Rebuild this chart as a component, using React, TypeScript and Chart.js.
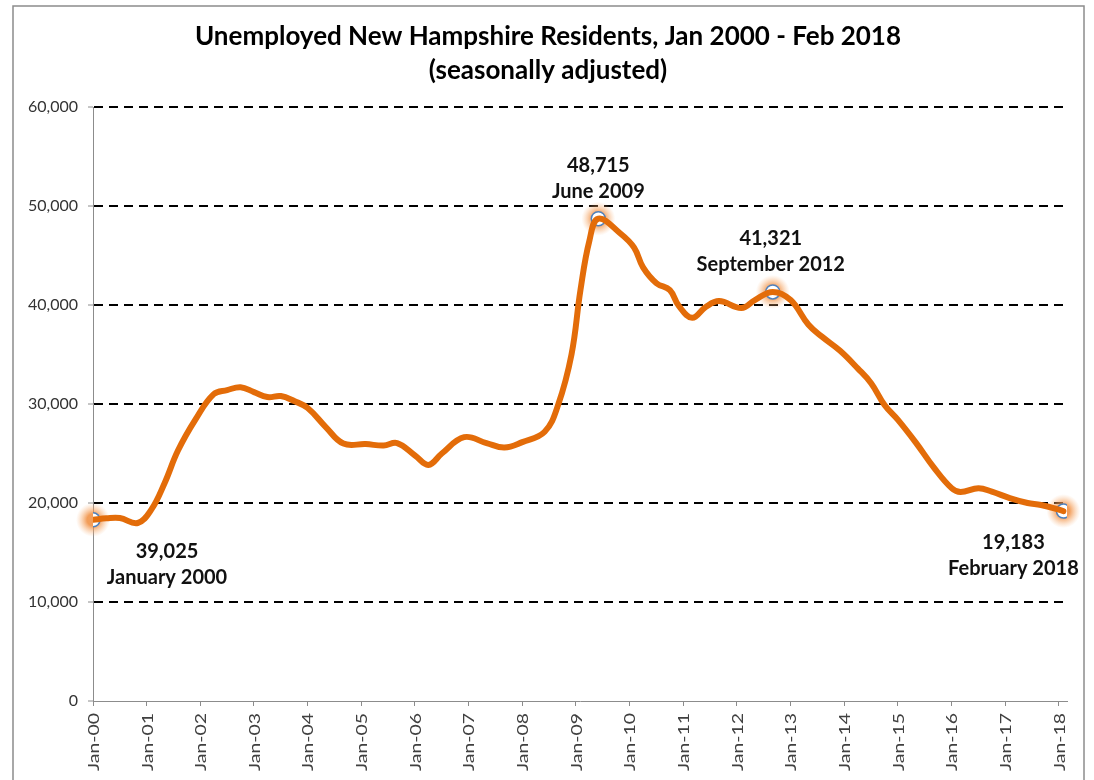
import React, { useEffect, useRef } from "react";
import { Chart, registerables } from "chart.js";

Chart.register(...registerables);

const TITLE_LINES = ["Unemployed New Hampshire Residents, Jan 2000 - Feb 2018", "(seasonally adjusted)"];

// months since Jan 2000
const MONTHS = [
  0, 3, 6, 10, 13, 16, 19, 23, 27, 30, 33, 36, 39, 42, 45, 48, 52, 56, 61, 65, 68, 72, 75, 78, 83, 88, 92, 96,
  101, 104, 107, 109, 111, 113, 118, 121, 123, 126, 129, 131, 134, 137, 140, 145, 148, 152, 156, 160, 163, 167,
  171, 174, 177, 180, 184, 188, 192, 194, 198, 201, 205, 209, 212, 217,
];
const UNEMPLOYED = [
  18300, 18450, 18480, 17980, 19300, 22000, 25300, 28500, 31000, 31400, 31700, 31200, 30700, 30800, 30300, 29600,
  27700, 26000, 25950, 25800, 26050, 24800, 23850, 25000, 26650, 26050, 25600, 26150, 27200, 29900, 35000, 41500,
  46500, 48715, 47200, 45800, 43800, 42200, 41500, 39900, 38700, 39800, 40400, 39700, 40500, 41321, 40500, 38000,
  36800, 35400, 33600, 32100, 29900, 28400, 26100, 23600, 21500, 21100, 21500, 21150, 20500, 20000, 19800, 19183,
];

const HIGHLIGHT_MONTHS = [0, 113, 152, 217];
const HIGHLIGHT_VALUES = [18300, 48715, 41321, 19183];
const HIGHLIGHT_NUMBERS = ["39,025", "48,715", "41,321", "19,183"];
const HIGHLIGHT_DATES = ["January 2000", "June 2009", "September 2012", "February 2018"];
const LABEL_OFFSETS = [
  [74, 32],
  [0, -53],
  [-2, -53],
  [-50, 31],
];

const X_TICK_MONTHS = [0, 12, 24, 36, 48, 60, 72, 84, 96, 108, 120, 132, 144, 156, 168, 180, 192, 204, 216];
const X_TICK_LABELS = [
  "Jan-00", "Jan-01", "Jan-02", "Jan-03", "Jan-04", "Jan-05", "Jan-06", "Jan-07", "Jan-08", "Jan-09",
  "Jan-10", "Jan-11", "Jan-12", "Jan-13", "Jan-14", "Jan-15", "Jan-16", "Jan-17", "Jan-18",
];

const FONT = "Lato, 'Open Sans', sans-serif";
const ORANGE = "#E36C09";

const decorPlugin = {
  id: "decor",
  beforeDraw(chart: any) {
    const ctx = chart.ctx;
    ctx.save();
    ctx.fillStyle = "#ffffff";
    ctx.fillRect(0, 0, chart.width, chart.height);
    ctx.strokeStyle = "#8c8c8c";
    ctx.lineWidth = 1.5;
    ctx.strokeRect(13, 6, 1071, 800);
    ctx.fillStyle = "#000";
    ctx.textAlign = "center";
    ctx.textBaseline = "middle";
    ctx.font = `bold 26px ${FONT}`;
    ctx.fillText(TITLE_LINES[0], 548, 37);
    ctx.fillText(TITLE_LINES[1], 548, 71);
    ctx.restore();
  },
  beforeDatasetDraw(chart: any, args: any) {
    if (args.index !== 1) return;
    const ctx = chart.ctx;
    const xs = chart.scales.x;
    const ys = chart.scales.y;
    ctx.save();
    HIGHLIGHT_MONTHS.forEach((m, i) => {
      const px = xs.getPixelForValue(m);
      const py = ys.getPixelForValue(HIGHLIGHT_VALUES[i]);
      const g = ctx.createRadialGradient(px, py, 6, px, py, 17);
      g.addColorStop(0, "rgba(240,140,60,0.85)");
      g.addColorStop(1, "rgba(250,190,140,0)");
      ctx.fillStyle = g;
      ctx.beginPath();
      ctx.arc(px, py, 17, 0, Math.PI * 2);
      ctx.fill();
    });
    ctx.restore();
  },
  afterDatasetsDraw(chart: any) {
    const ctx = chart.ctx;
    const xs = chart.scales.x;
    const ys = chart.scales.y;
    ctx.save();
    ctx.fillStyle = "#111";
    ctx.textAlign = "center";
    ctx.textBaseline = "middle";
    ctx.font = `bold 20px ${FONT}`;
    HIGHLIGHT_MONTHS.forEach((m, i) => {
      const px = xs.getPixelForValue(m) + LABEL_OFFSETS[i][0];
      const py = ys.getPixelForValue(HIGHLIGHT_VALUES[i]) + LABEL_OFFSETS[i][1];
      ctx.fillText(HIGHLIGHT_NUMBERS[i], px, py);
      ctx.fillText(HIGHLIGHT_DATES[i], px, py + 26);
    });
    // x tick labels (rotated, elongated along their length like the reference)
    ctx.fillStyle = "#404040";
    ctx.font = `15px ${FONT}`;
    ctx.textAlign = "right";
    ctx.textBaseline = "middle";
    const stretch = 58 / ctx.measureText("Jan-00").width;
    const top = xs.top + 12;
    X_TICK_MONTHS.forEach((m, i) => {
      const px = xs.getPixelForValue(m);
      ctx.save();
      ctx.translate(px + 1, top);
      ctx.rotate(-Math.PI / 2);
      ctx.scale(stretch, 1);
      ctx.fillText(X_TICK_LABELS[i], 0, 0);
      ctx.restore();
    });
    ctx.restore();
  },
};

export default function App() {
  const ref = useRef<HTMLCanvasElement | null>(null);
  useEffect(() => {
    if (!ref.current) return;
    const chart = new Chart(ref.current, {
      type: "line",
      data: {
        datasets: [
          {
            data: MONTHS.map((m, i) => ({ x: m, y: UNEMPLOYED[i] })),
            borderColor: ORANGE,
            borderWidth: 6,
            pointRadius: 0,
            tension: 0.4,
            fill: false,
            borderCapStyle: "round",
            borderJoinStyle: "round",
          },
          {
            data: HIGHLIGHT_MONTHS.map((m, i) => ({ x: m, y: HIGHLIGHT_VALUES[i] })),
            showLine: false,
            pointRadius: 7,
            pointBackgroundColor: "#ffffff",
            pointBorderColor: "#4F81BD",
            pointBorderWidth: 1.5,
          },
        ],
      },
      options: {
        animation: false,
        responsive: false,
        layout: { padding: { left: 0, top: 107, right: 27, bottom: 0 } },
        plugins: { legend: { display: false }, tooltip: { enabled: false }, title: { display: false } },
        scales: {
          x: {
            type: "linear",
            min: 0,
            max: 217.8,
            afterBuildTicks: (scale: any) => {
              scale.ticks = X_TICK_MONTHS.map((v) => ({ value: v }));
            },
            afterFit: (scale: any) => {
              scale.height = 79;
            },
            ticks: { display: false, autoSkip: false },
            grid: { drawOnChartArea: false, drawTicks: true, tickLength: 5, tickColor: "#8c8c8c" },
            border: { display: true, color: "#8c8c8c", width: 1 },
          },
          y: {
            min: 0,
            max: 60000,
            afterFit: (scale: any) => {
              scale.width = 93;
            },
            ticks: {
              stepSize: 10000,
              padding: 10,
              color: "#333333",
              font: { family: FONT, size: 16 },
              callback: (v: any) => Number(v).toLocaleString("en-US"),
            },
            grid: {
              color: (c: any) => (c.tick && c.tick.value === 0 ? "rgba(0,0,0,0)" : "#000"),
              lineWidth: 2,
              tickLength: 5,
              tickColor: "#8c8c8c",
              tickWidth: 1,
            },
            border: { display: true, color: "#8c8c8c", width: 1, dash: [9, 6] },
          },
        },
      },
      plugins: [decorPlugin],
    } as any);
    return () => chart.destroy();
  }, []);
  return (
    <div style={{ position: "absolute", left: 0, top: 0, width: 1094, height: 780 }}>
      <canvas ref={ref} width={1094} height={780} style={{ display: "block" }} />
    </div>
  );
}
